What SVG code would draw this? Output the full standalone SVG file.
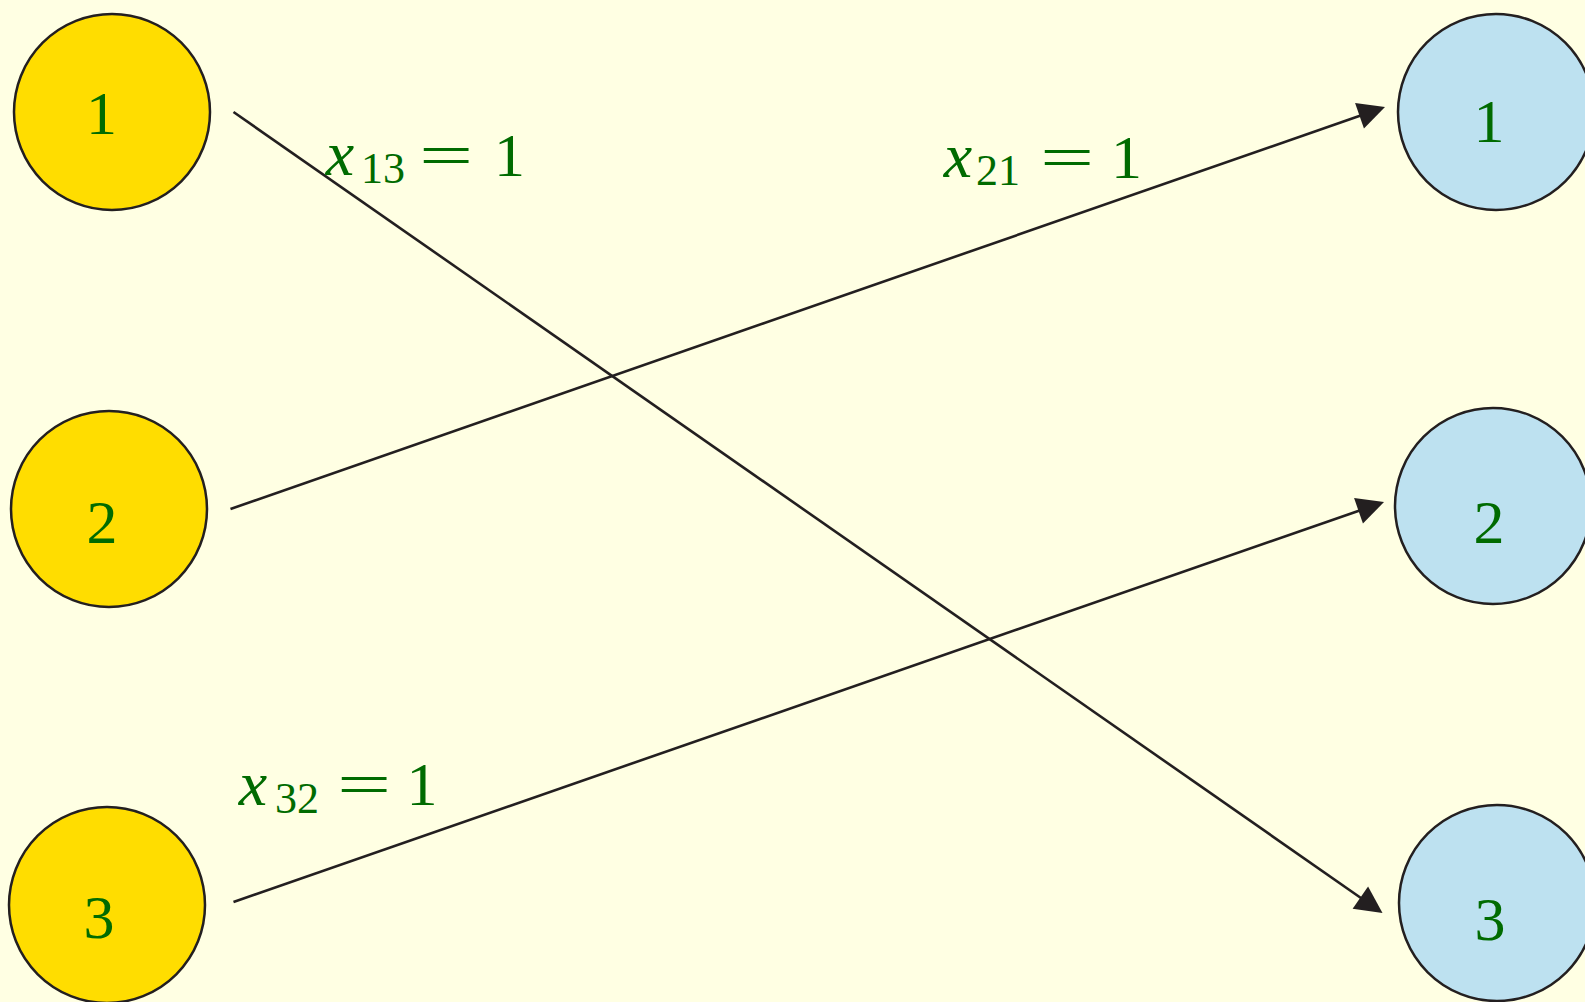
<svg xmlns="http://www.w3.org/2000/svg" width="1585" height="1002" viewBox="0 0 1585 1002">
<style>
.bg{fill:#ffffe3}
.src{fill:#ffdd00;stroke:#231f20;stroke-width:2.5}
.dst{fill:#bde1f0;stroke:#231f20;stroke-width:2.5}
.lbl{font-family:"Liberation Serif","Times New Roman",serif;font-size:62px;fill:#006b00;text-anchor:middle}
.it{font-style:italic;font-size:64px}
.sub{font-size:44px}
.edge{stroke:#231f20;stroke-width:2.6;fill:none}
</style>
<defs>
<marker id="arr" markerUnits="userSpaceOnUse" viewBox="-3 -15 30 30" markerWidth="30" markerHeight="30" refX="0" refY="0" orient="auto">
<path d="M-2,-13.5 L25,0 L-2,13.5 Z" fill="#231f20"/>
</marker>
</defs>
<rect class="bg" x="0" y="0" width="1585" height="1002"/>
<g id="connectors">
<line class="edge" x1="233.5" y1="112" x2="1362" y2="898.7" marker-end="url(#arr)"/>
<line class="edge" x1="230.5" y1="509" x2="1361.4" y2="115.2" marker-end="url(#arr)"/>
<line class="edge" x1="233.5" y1="902" x2="1360.4" y2="510.2" marker-end="url(#arr)"/>
</g>
<g id="s1"><circle class="src" cx="112" cy="112" r="98"/><text class="lbl" x="101.5" y="134">1</text></g>
<g id="s2"><circle class="src" cx="109" cy="509" r="98"/><text class="lbl" x="102" y="543">2</text></g>
<g id="s3"><circle class="src" cx="107" cy="905" r="98"/><text class="lbl" x="99" y="938">3</text></g>
<g id="d1"><circle class="dst" cx="1496" cy="112" r="98"/><text class="lbl" x="1489" y="142">1</text></g>
<g id="d2"><circle class="dst" cx="1493" cy="506" r="98"/><text class="lbl" x="1489" y="543">2</text></g>
<g id="d3"><circle class="dst" cx="1497" cy="903" r="98"/><text class="lbl" x="1490" y="940">3</text></g>
<g id="label-x13">
<text class="lbl it" x="340" y="175">x</text>
<text class="lbl sub" x="383" y="183">13</text>
<text class="lbl" transform="translate(446,176) scale(1.55,1)">=</text>
<text class="lbl" x="509.5" y="176">1</text>
</g>
<g id="label-x21">
<text class="lbl it" x="958" y="177">x</text>
<text class="lbl sub" x="998" y="185">21</text>
<text class="lbl" transform="translate(1067,178) scale(1.55,1)">=</text>
<text class="lbl" x="1126.5" y="178">1</text>
</g>
<g id="label-x32">
<text class="lbl it" x="253" y="805">x</text>
<text class="lbl sub" x="297" y="812.5">32</text>
<text class="lbl" transform="translate(364,805) scale(1.55,1)">=</text>
<text class="lbl" x="422" y="805">1</text>
</g>
</svg>
